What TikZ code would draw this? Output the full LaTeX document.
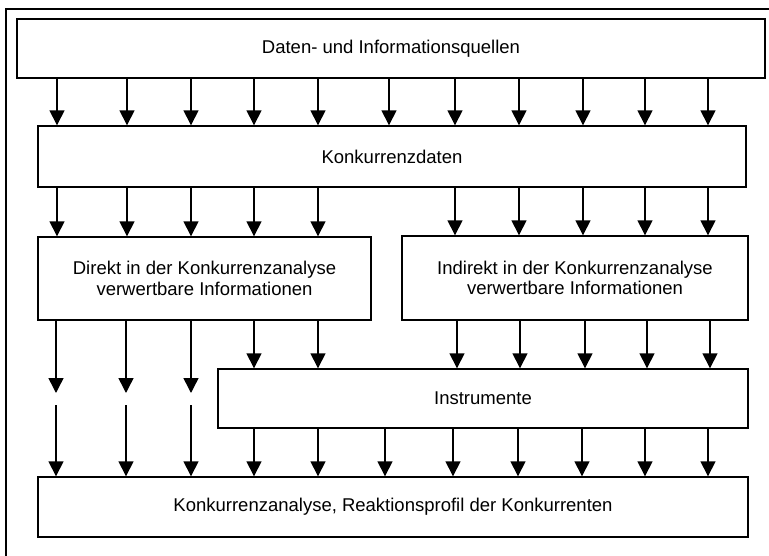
\documentclass[tikz,border=0pt]{standalone}
\usepackage{fontspec}
\setmainfont{Liberation Sans}
\usetikzlibrary{arrows.meta}
\begin{document}
\begin{tikzpicture}[x=1pt,y=-1pt,
  box/.style={draw,line width=1.4pt,inner sep=0pt,font=\fontsize{18.5}{20.5}\selectfont,align=center},
  arr/.style={line width=1.5pt,-{Triangle[width=15pt,length=15pt]}},
  frameline/.style={line width=1.2pt}]
\useasboundingbox (0,0) rectangle (769,556);
\fill[white] (0,0) rectangle (769,556);
\draw[frameline] (6,560) -- (6,9) -- (775,9);
\node[box,minimum width=748pt,minimum height=59pt] (b1) at (391,48.5) {Daten- und Informationsquellen};
\node[box,minimum width=708pt,minimum height=61pt] (b2) at (392,156.5) {Konkurrenzdaten};
\node[box,minimum width=333pt,minimum height=83pt] (b3) at (204.5,278.5) {Direkt in der Konkurrenzanalyse\\verwertbare Informationen};
\node[box,minimum width=346pt,minimum height=84pt] (b4) at (575,278) {Indirekt in der Konkurrenzanalyse\\verwertbare Informationen};
\node[box,minimum width=530pt,minimum height=59pt] (b5) at (483,398.5) {Instrumente};
\node[box,minimum width=710pt,minimum height=60pt] (b6) at (393,507) {Konkurrenzanalyse, Reaktionsprofil der Konkurrenten};
% Daten -> Konkurrenzdaten
\foreach \x in {57,127,191,254,318,389,455,519,583,645,708}
  \draw[arr] (\x,0 |- b1.south) -- (\x,0 |- b2.north);
% Konkurrenzdaten -> Direkt
\foreach \x in {57,127,191,254,318}
  \draw[arr] (\x,0 |- b2.south) -- (\x,0 |- b3.north);
% Konkurrenzdaten -> Indirekt
\foreach \x in {455,519,583,645,708}
  \draw[arr] (\x,0 |- b2.south) -- (\x,0 |- b4.north);
% Direkt -> Konkurrenzanalyse (broken)
\foreach \x [count=\i] in {56,126,191}{
  \coordinate (m\i a) at (\x,393);
  \coordinate (m\i b) at (\x,405);
  \draw[arr] (\x,0 |- b3.south) -- (m\i a);
  \draw[arr] (m\i b) -- (\x,0 |- b6.north);
}
% Direkt -> Instrumente
\foreach \x in {254,318}
  \draw[arr] (\x,0 |- b3.south) -- (\x,0 |- b5.north);
% Indirekt -> Instrumente
\foreach \x in {457,520,585,647,710}
  \draw[arr] (\x,0 |- b4.south) -- (\x,0 |- b5.north);
% Instrumente -> Konkurrenzanalyse
\foreach \x in {254,318,385,453,518,582,645,708}
  \draw[arr] (\x,0 |- b5.south) -- (\x,0 |- b6.north);
\end{tikzpicture}
\end{document}
